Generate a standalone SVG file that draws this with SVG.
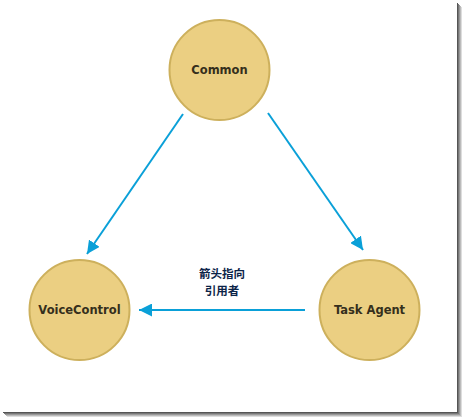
<svg xmlns="http://www.w3.org/2000/svg" width="462" height="417" viewBox="0 0 462 417">
<style>
.node circle{fill:#ebcf82;stroke:#cdb05c;stroke-width:2}
.node text{font-family:"DejaVu Sans","Liberation Sans",sans-serif;font-weight:bold;font-size:11.5px;fill:#352f1c;text-anchor:middle;dominant-baseline:central}
.conn line{stroke:#0aa0d8;stroke-width:2;fill:none}
.lbl{font-family:"Noto Sans CJK SC","Liberation Sans",sans-serif;font-weight:bold;font-size:11.5px;fill:#0c2448;text-anchor:middle}
</style>
<defs>
<marker id="ah" viewBox="0 0 10 10" refX="10" refY="5" markerWidth="6.5" markerHeight="6.5" markerUnits="strokeWidth" orient="auto">
<path d="M0,0 L10,5 L0,10 z" fill="#0aa0d8"/>
</marker>
</defs>
<rect width="462" height="417" fill="#fff"/>
<g id="shadow">
<rect x="457" y="3" width="1" height="410" fill="#555"/>
<rect x="458" y="4" width="1" height="410" fill="#777"/>
<rect x="459" y="5" width="1" height="410" fill="#999"/>
<rect x="460" y="6" width="1" height="410" fill="#bbb"/>
<rect x="461" y="7" width="1" height="410" fill="#ddd"/>
<rect x="3" y="412" width="455" height="1" fill="#555"/>
<rect x="4" y="413" width="455" height="1" fill="#777"/>
<rect x="5" y="414" width="455" height="1" fill="#999"/>
<rect x="6" y="415" width="455" height="1" fill="#bbb"/>
<rect x="7" y="416" width="455" height="1" fill="#ddd"/>
</g>
<g class="conn" id="connectors">
<line x1="183" y1="114" x2="87" y2="254" marker-end="url(#ah)"/>
<line x1="268" y1="113" x2="363" y2="250" marker-end="url(#ah)"/>
<line x1="305" y1="310" x2="139" y2="310" marker-end="url(#ah)"/>
</g>
<g id="label">
<text class="lbl" x="222" y="277.5">箭头指向</text>
<text class="lbl" x="222" y="294.5">引用者</text>
</g>
<g class="node" id="common">
<circle cx="219.5" cy="70" r="50"/>
<text x="219.5" y="70">Common</text>
</g>
<g class="node" id="voicecontrol">
<circle cx="79.5" cy="310" r="50"/>
<text x="79.5" y="310">VoiceControl</text>
</g>
<g class="node" id="taskagent">
<circle cx="369.5" cy="310" r="50"/>
<text x="369.5" y="310">Task Agent</text>
</g>
</svg>
